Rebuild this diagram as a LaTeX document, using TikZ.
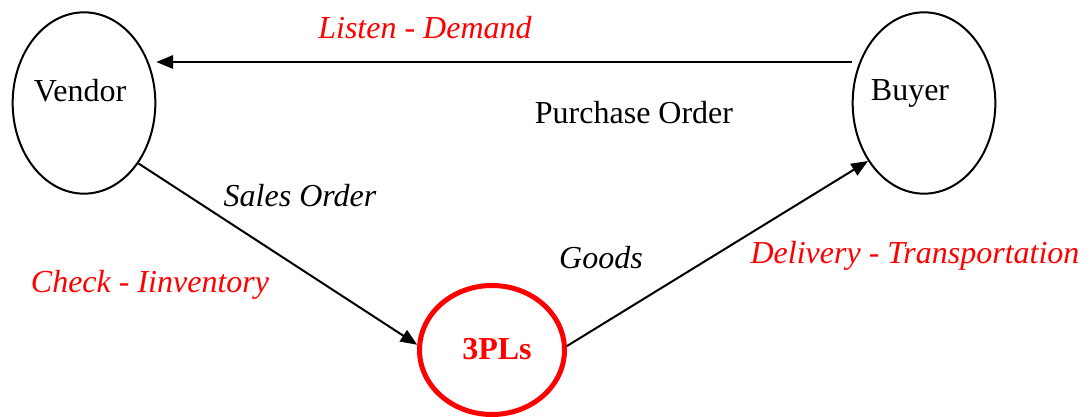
\documentclass[tikz,border=0pt]{standalone}
\usepackage{fontspec}
\setmainfont{Liberation Serif}
\usetikzlibrary{shapes.geometric,arrows.meta}
\definecolor{hotred}{RGB}{255,0,0}
\begin{document}
\begin{tikzpicture}[x=0.75pt,y=-0.75pt,
  party/.style={ellipse,draw=black,line width=1.5pt,inner sep=0pt,
    minimum width=107pt,minimum height=136pt},
  hub/.style={ellipse,draw=hotred,line width=3.75pt,inner sep=0pt,
    minimum width=108.75pt,minimum height=96.75pt},
  flow/.style={line width=1.5pt,-{Triangle[length=12.5pt,width=10pt]}},
  tag/.style={anchor=base,font=\fontsize{24}{28}\selectfont,inner sep=0pt},
  redtag/.style={tag,text=hotred,font=\fontsize{24}{28}\selectfont\itshape},
  plaintag/.style={tag,font=\fontsize{24}{28}\selectfont\itshape}]
\useasboundingbox (0,0) rectangle (1091,417);

% parties and the logistics hub
\node[party] (vendor) at (84,103) {};
\node[party] (buyer) at (924,103) {};
\node[hub] (pl) at (492,350) {};

\node[tag] (vendorname) at (80,101.5) {Vendor};
\node[tag] (buyername) at (910,100.5) {Buyer};
\node[tag,text=hotred,font=\fontsize{24}{28}\selectfont\bfseries] (plname) at (497,359) {3PLs};

% flows between the parties
\draw[flow] (buyer.west |- 0,62) -- (vendor.east |- 0,62);
\draw[flow] (vendor.-48) -- (pl.176);
\draw[flow] (pl.3) -- (buyer.226);

% flow labels
\node[redtag] (listen) at (425,38.5) {Listen - Demand};
\node[tag] (po) at (634,123.5) {Purchase Order};
\node[plaintag] (so) at (300,206.5) {Sales Order};
\node[redtag] (check) at (150,292.5) {Check - Iinventory};
\node[plaintag] (goods) at (601,268.5) {Goods};
\node[redtag] (deliv) at (915,263.5) {Delivery - Transportation};
\end{tikzpicture}
\end{document}
